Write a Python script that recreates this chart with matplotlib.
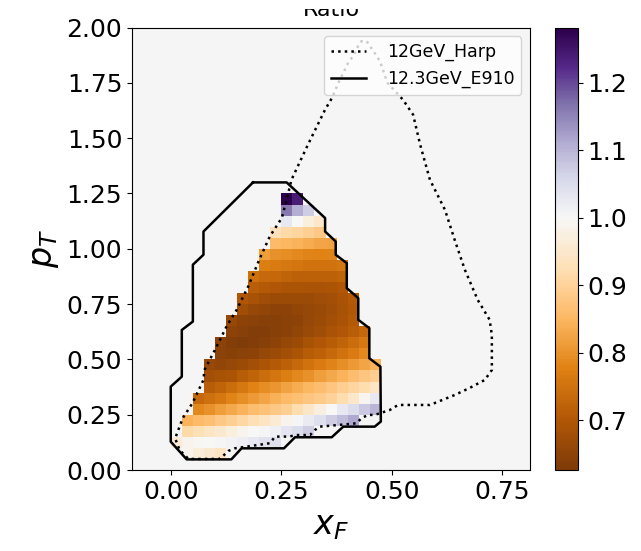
import numpy as np
import matplotlib
matplotlib.use('Agg')
import matplotlib.pyplot as plt
from matplotlib.colors import ListedColormap, TwoSlopeNorm
from matplotlib.patches import Rectangle

# binning of the ratio map
xf_bin = 0.025
pt_bin = 0.05
n_xf_bins = 20
n_pt_bins = 25

# first filled xF bin of each pT row (rows 1..24), and the ratio values along the row
ratio_first_bin = [1, 0, 1, 1, 2, 2, 3, 3, 3, 4, 4, 5, 5, 6, 6, 7, 7, 8, 8, 9, 9, 10, 10, 10]
ratio_rows = [
    [0.985, 0.965, 0.955, 0.94],
    [0.96, 0.985, 0.995, 1.0, 1.005, 1.01, 1.02, 1.03, 1.04, 1.045],
    [0.915, 0.925, 0.94, 0.955, 0.97, 0.985, 1.0, 1.005, 1.015, 1.035, 1.05, 1.07],
    [0.845, 0.855, 0.865, 0.88, 0.895, 0.91, 0.925, 0.94, 0.96, 0.985, 1.005, 1.025, 1.045, 1.07, 1.09, 1.115],
    [0.785, 0.80, 0.815, 0.83, 0.845, 0.86, 0.87, 0.88, 0.895, 0.92, 0.945, 0.975, 1.0, 1.03, 1.05, 1.075, 1.10],
    [0.73, 0.745, 0.76, 0.78, 0.795, 0.81, 0.825, 0.84, 0.855, 0.865, 0.875, 0.885, 0.90, 0.92, 0.95, 0.99, 1.03],
    [0.71, 0.725, 0.74, 0.76, 0.775, 0.79, 0.805, 0.82, 0.835, 0.85, 0.86, 0.875, 0.89, 0.905, 0.92, 0.94],
    [0.68, 0.685, 0.695, 0.71, 0.725, 0.74, 0.755, 0.77, 0.785, 0.80, 0.815, 0.83, 0.845, 0.86, 0.875, 0.89],
    [0.66, 0.655, 0.66, 0.67, 0.68, 0.695, 0.705, 0.72, 0.735, 0.75, 0.765, 0.78, 0.795, 0.81, 0.825, 0.845],
    [0.645, 0.64, 0.645, 0.65, 0.66, 0.67, 0.68, 0.695, 0.71, 0.72, 0.735, 0.75, 0.765, 0.785],
    [0.645, 0.635, 0.626, 0.635, 0.64, 0.65, 0.66, 0.67, 0.685, 0.70, 0.71, 0.725, 0.74, 0.76],
    [0.65, 0.64, 0.635, 0.635, 0.64, 0.645, 0.655, 0.665, 0.675, 0.69, 0.70, 0.715, 0.73],
    [0.66, 0.65, 0.645, 0.64, 0.64, 0.645, 0.65, 0.66, 0.67, 0.68, 0.69, 0.705],
    [0.675, 0.66, 0.655, 0.65, 0.65, 0.655, 0.66, 0.665, 0.675, 0.685, 0.70],
    [0.70, 0.685, 0.675, 0.67, 0.67, 0.67, 0.67, 0.675, 0.68, 0.69, 0.705],
    [0.715, 0.705, 0.70, 0.695, 0.695, 0.69, 0.69, 0.695, 0.70],
    [0.745, 0.735, 0.73, 0.725, 0.72, 0.72, 0.72, 0.72, 0.725],
    [0.77, 0.765, 0.76, 0.755, 0.75, 0.75, 0.75, 0.755],
    [0.815, 0.80, 0.79, 0.785, 0.78, 0.775, 0.78],
    [0.855, 0.85, 0.845, 0.835, 0.825, 0.82],
    [0.93, 0.915, 0.905, 0.895, 0.88],
    [1.03, 1.0, 0.97, 0.95],
    [1.16, 1.11, 1.07],
    [1.282, 1.24],
]

# acceptance outlines
e910_xf = [0.186, 0.262, 0.349, 0.349, 0.373, 0.373, 0.398, 0.398, 0.424, 0.424, 0.449, 0.449,
           0.474, 0.475, 0.461, 0.390, 0.364, 0.281, 0.256, 0.160, 0.137, 0.036, 0.0, 0.0,
           0.025, 0.025, 0.050, 0.050, 0.074, 0.074, 0.186]
e910_pt = [1.300, 1.300, 1.139, 1.078, 1.033, 0.973, 0.935, 0.822, 0.777, 0.679, 0.641, 0.505,
           0.467, 0.219, 0.196, 0.196, 0.148, 0.148, 0.098, 0.098, 0.048, 0.048, 0.128, 0.377,
           0.422, 0.633, 0.671, 0.928, 0.973, 1.078, 1.300]

harp_xf = [0.119, 0.130, 0.145, 0.224, 0.236, 0.266, 0.285, 0.315, 0.326, 0.337, 0.382, 0.420,
           0.431, 0.446, 0.461, 0.495, 0.514, 0.586, 0.642, 0.676, 0.710, 0.726, 0.726, 0.721,
           0.694, 0.665, 0.642, 0.620, 0.586, 0.564, 0.548, 0.525, 0.490, 0.473, 0.461, 0.443,
           0.431, 0.424, 0.413, 0.401, 0.379, 0.364, 0.349, 0.310, 0.273, 0.262, 0.251, 0.224,
           0.200, 0.175, 0.149, 0.126, 0.100, 0.076, 0.074, 0.049, 0.027, 0.010, 0.020, 0.040,
           0.110, 0.119]
harp_pt = [0.065, 0.086, 0.098, 0.121, 0.151, 0.151, 0.158, 0.158, 0.181, 0.196, 0.204, 0.211,
           0.234, 0.249, 0.249, 0.271, 0.294, 0.294, 0.339, 0.371, 0.407, 0.452, 0.610, 0.679,
           0.769, 0.905, 1.040, 1.176, 1.312, 1.470, 1.606, 1.674, 1.750, 1.848, 1.885, 1.938,
           1.938, 1.918, 1.873, 1.840, 1.750, 1.680, 1.629, 1.470, 1.312, 1.222, 1.139, 1.056,
           0.950, 0.829, 0.724, 0.648, 0.543, 0.452, 0.407, 0.302, 0.234, 0.143, 0.090, 0.050,
           0.050, 0.065]

ratio = np.full((n_pt_bins, n_xf_bins), np.nan)
for j, (k0, vals) in enumerate(zip(ratio_first_bin, ratio_rows), start=1):
    ratio[j, k0:k0 + len(vals)] = vals

xf_edges = np.arange(n_xf_bins + 1) * xf_bin
pt_edges = np.arange(n_pt_bins + 1) * pt_bin

vmin, vmax = np.nanmin(ratio), np.nanmax(ratio)
# PuOr with the white point pinned to ratio = 1
levels = np.linspace(vmin, vmax, 256)
cmap = ListedColormap(plt.get_cmap('PuOr')(TwoSlopeNorm(1.0, vmin, vmax)(levels)))

fig = plt.figure(figsize=(6.41, 5.51), dpi=100)
ax = fig.add_axes([0.206, 0.147, 0.621, 0.803])
cax = fig.add_axes([0.866, 0.147, 0.035, 0.803])

ax.set_facecolor('whitesmoke')
mesh = ax.pcolormesh(xf_edges, pt_edges, np.ma.masked_invalid(ratio),
                     cmap=cmap, vmin=vmin, vmax=vmax)
ax.plot(harp_xf, harp_pt, 'k:', lw=1.8, label='12GeV_Harp')
ax.plot(e910_xf, e910_pt, 'k-', lw=1.8, label='12.3GeV_E910')

ax.set_xlim(-0.0875, 0.8125)
ax.set_ylim(0, 2)
ax.set_xticks([0, 0.25, 0.5, 0.75])
ax.set_yticks(np.arange(0, 2.01, 0.25))
ax.tick_params(labelsize=18)
ax.set_xlabel('$x_F$', fontsize=24)
ax.set_ylabel('$p_T$', fontsize=24)
ax.set_title('Ratio', fontsize=16, pad=8)
ax.legend(loc='upper right', fontsize=12.5, handletextpad=1.2)

cb = fig.colorbar(mesh, cax=cax)
cb.ax.tick_params(labelsize=18)

# top strip of the page is blank
fig.add_artist(Rectangle((0, 1 - 8.5 / 551), 1, 8.5 / 551, transform=fig.transFigure,
                         facecolor='white', edgecolor='none', zorder=10))

fig.savefig('out.png', dpi=100)
